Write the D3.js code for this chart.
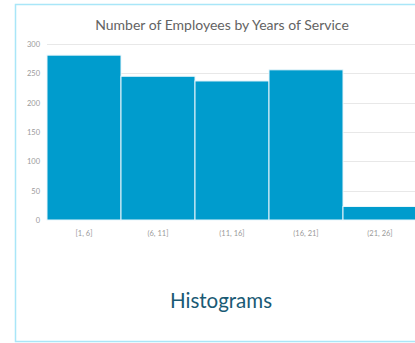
<!DOCTYPE html>
<html>
<head>
<meta charset="utf-8">
<script src="https://cdn.jsdelivr.net/npm/d3@7"></script>
<style>
  html, body { margin: 0; padding: 0; background: #ffffff; }
  svg { display: block; }
</style>
</head>
<body>
<svg id="chart" width="415" height="343"></svg>
<script>
// Histogram bins (years of service) and employee counts
const binEdges = [1, 6, 11, 16, 21, 26];
const binLabels = ["[1, 6]", "(6, 11]", "(11, 16]", "(16, 21]", "(21, 26]"];
const counts = [281, 245, 237, 256, 23];
const yTicks = [0, 50, 100, 150, 200, 250, 300];

const chartTitle = "Number of Employees by Years of Service";
const caption = "Histograms";

const svg = d3.select("#chart");
const font = "Lato, 'Open Sans', sans-serif";

// card frame
svg.append("rect")
  .attr("x", 15.5).attr("y", 4.5)
  .attr("width", 420).attr("height", 337)
  .attr("fill", "#ffffff")
  .attr("stroke", "#a9e6f8")
  .attr("stroke-width", 1.5);

const x = d3.scaleLinear().domain([binEdges[0], binEdges[binEdges.length - 1]]).range([47, 417]);
const y = d3.scaleLinear().domain([0, 300]).range([220, 44]);

// horizontal gridlines
svg.append("g")
  .selectAll("line")
  .data(yTicks.filter(d => d > 0))
  .join("line")
  .attr("x1", x.range()[0]).attr("x2", 415)
  .attr("y1", d => Math.round(y(d)) + 0.5)
  .attr("y2", d => Math.round(y(d)) + 0.5)
  .attr("stroke", "#e8e8e8")
  .attr("stroke-width", 1);

// y-axis tick labels
const yAxis = d3.axisLeft(y).tickValues(yTicks).tickSize(0).tickPadding(0);
const yg = svg.append("g").attr("transform", "translate(40,0)").call(yAxis);
yg.select(".domain").remove();
yg.selectAll("text")
  .attr("fill", "#9a9a9a")
  .style("font-family", font)
  .style("font-size", "7.5px");

// bars
const bins = counts.map((c, i) => ({ x0: binEdges[i], x1: binEdges[i + 1], count: c, label: binLabels[i] }));
svg.append("g")
  .selectAll("rect")
  .data(bins)
  .join("rect")
  .attr("x", d => x(d.x0))
  .attr("width", d => x(d.x1) - x(d.x0))
  .attr("y", d => y(d.count))
  .attr("height", d => y(0) - y(d.count))
  .attr("fill", "#009ccd")
  .attr("stroke", "#e9f6fb")
  .attr("stroke-width", 1);

// x-axis bin labels
const xBand = d3.scaleBand().domain(binLabels).range(x.range());
const xAxis = d3.axisBottom(xBand).tickSize(0).tickPadding(0);
const xg = svg.append("g").attr("transform", "translate(0,231)").call(xAxis);
xg.select(".domain").remove();
xg.selectAll("text")
  .attr("fill", "#9a9a9a")
  .style("font-family", font)
  .style("font-size", "7.5px");

// chart title
svg.append("text")
  .attr("x", 222).attr("y", 29.5)
  .attr("text-anchor", "middle")
  .attr("fill", "#636363")
  .style("font-family", font)
  .style("font-size", "14px")
  .text(chartTitle);

// caption
svg.append("text")
  .attr("x", 221).attr("y", 308)
  .attr("text-anchor", "middle")
  .attr("fill", "#1a5a74")
  .style("font-family", font)
  .style("font-size", "20.5px")
  .text(caption);
</script>
</body>
</html>
